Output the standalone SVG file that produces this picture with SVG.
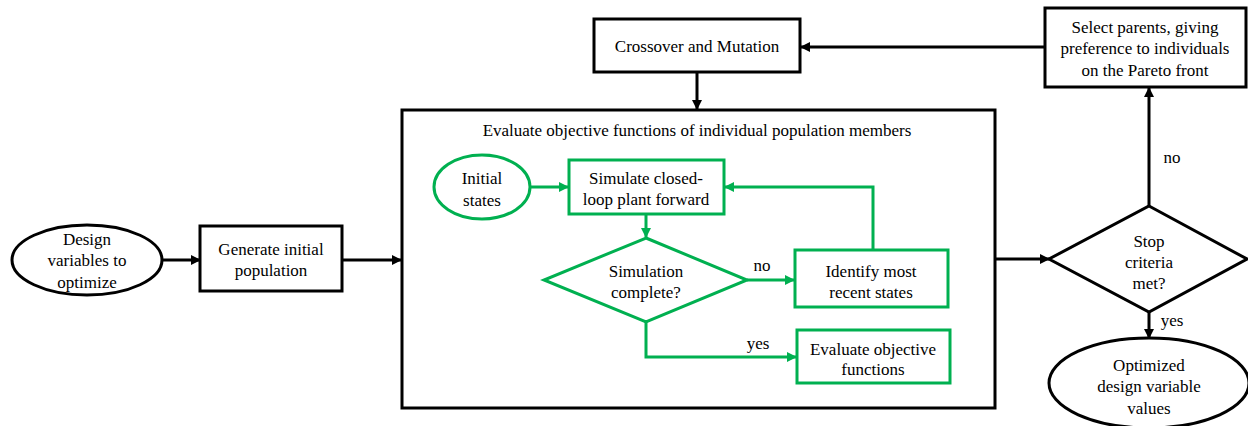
<svg xmlns="http://www.w3.org/2000/svg" width="1248" height="426" viewBox="0 0 1248 426" font-family="'Liberation Serif', 'Times New Roman', serif">
<defs>
<marker id="ab" markerWidth="10" markerHeight="10" refX="9" refY="5" orient="auto" markerUnits="userSpaceOnUse"><path d="M0,0 L10,5 L0,10 z" fill="#000"/></marker>
<marker id="ag" markerWidth="10" markerHeight="10" refX="9" refY="5" orient="auto" markerUnits="userSpaceOnUse"><path d="M0,0 L10,5 L0,10 z" fill="#00B050"/></marker>
</defs>
<style>
text{font-family:'Liberation Serif','Times New Roman','DejaVu Serif',serif;font-size:17px;fill:#000;text-anchor:middle}
.b{fill:#fff;stroke:#000;stroke-width:3}
.g{fill:#fff;stroke:#00B050;stroke-width:3}
.cb{fill:none;stroke:#000;stroke-width:3;marker-end:url(#ab)}
.cg{fill:none;stroke:#00B050;stroke-width:3;marker-end:url(#ag)}
</style>
<rect width="1248" height="426" fill="#fff"/>
<g id="design"><ellipse class="b" cx="87" cy="260" rx="75" ry="35"/><text x="87" y="245">Design</text><text x="87" y="266">variables to</text><text x="87" y="288">optimize</text></g>
<g id="generate"><rect class="b" x="200" y="226" width="142" height="65"/><text x="271" y="255">Generate initial</text><text x="271" y="276">population</text></g>
<g id="evaluate-outer"><rect class="b" x="402" y="110" width="593" height="298"/><text x="697" y="136">Evaluate objective functions of individual population members</text></g>
<g id="initial"><ellipse class="g" cx="482" cy="187" rx="48" ry="32"/><text x="482" y="184">Initial</text><text x="482" y="206">states</text></g>
<g id="simulate"><rect class="g" x="569" y="160" width="155" height="54"/><text x="646" y="184">Simulate closed-</text><text x="646" y="205">loop plant forward</text></g>
<g id="complete"><polygon class="g" points="646,238 747,280 646,322 544,280"/><text x="646" y="277">Simulation</text><text x="646" y="298">complete?</text></g>
<g id="identify"><rect class="g" x="795" y="250" width="153" height="57"/><text x="871" y="277">Identify most</text><text x="871" y="298">recent states</text></g>
<g id="evalobj"><rect class="g" x="797" y="330" width="153" height="53"/><text x="873" y="355">Evaluate objective</text><text x="873" y="375">functions</text></g>
<g id="crossover"><rect class="b" x="594" y="19" width="206" height="53"/><text x="697" y="52">Crossover and Mutation</text></g>
<g id="select"><rect class="b" x="1045" y="8" width="201" height="79"/><text x="1145" y="33">Select parents, giving</text><text x="1145" y="54">preference to individuals</text><text x="1145" y="76">on the Pareto front</text></g>
<g id="stop"><polygon class="b" points="1149,206 1247,259 1149,312 1049,259"/><text x="1149" y="247">Stop</text><text x="1149" y="268">criteria</text><text x="1149" y="289">met?</text></g>
<g id="optimized"><ellipse class="b" cx="1149" cy="383" rx="100" ry="45"/><text x="1149" y="371">Optimized</text><text x="1149" y="392">design variable</text><text x="1149" y="414">values</text></g>
<g id="connectors">
<path class="cb" d="M162,260 H200"/>
<path class="cb" d="M342,260 H401"/>
<path class="cb" d="M697,72 V109"/>
<path class="cb" d="M1045,47 H801"/>
<path class="cb" d="M995,259 H1049"/>
<path class="cb" d="M1149,206 V88"/>
<path class="cb" d="M1149,312 V338"/>
<path class="cg" d="M530,187 H568"/>
<path class="cg" d="M646,214 V237"/>
<path class="cg" d="M747,280 H794"/>
<path class="cg" d="M873,250 V187 H725"/>
<path class="cg" d="M646,322 V357 H796"/>
</g>
<g id="labels">
<text x="762" y="271">no</text>
<text x="758" y="349">yes</text>
<text x="1172" y="163">no</text>
<text x="1172" y="326">yes</text>
</g>
</svg>
